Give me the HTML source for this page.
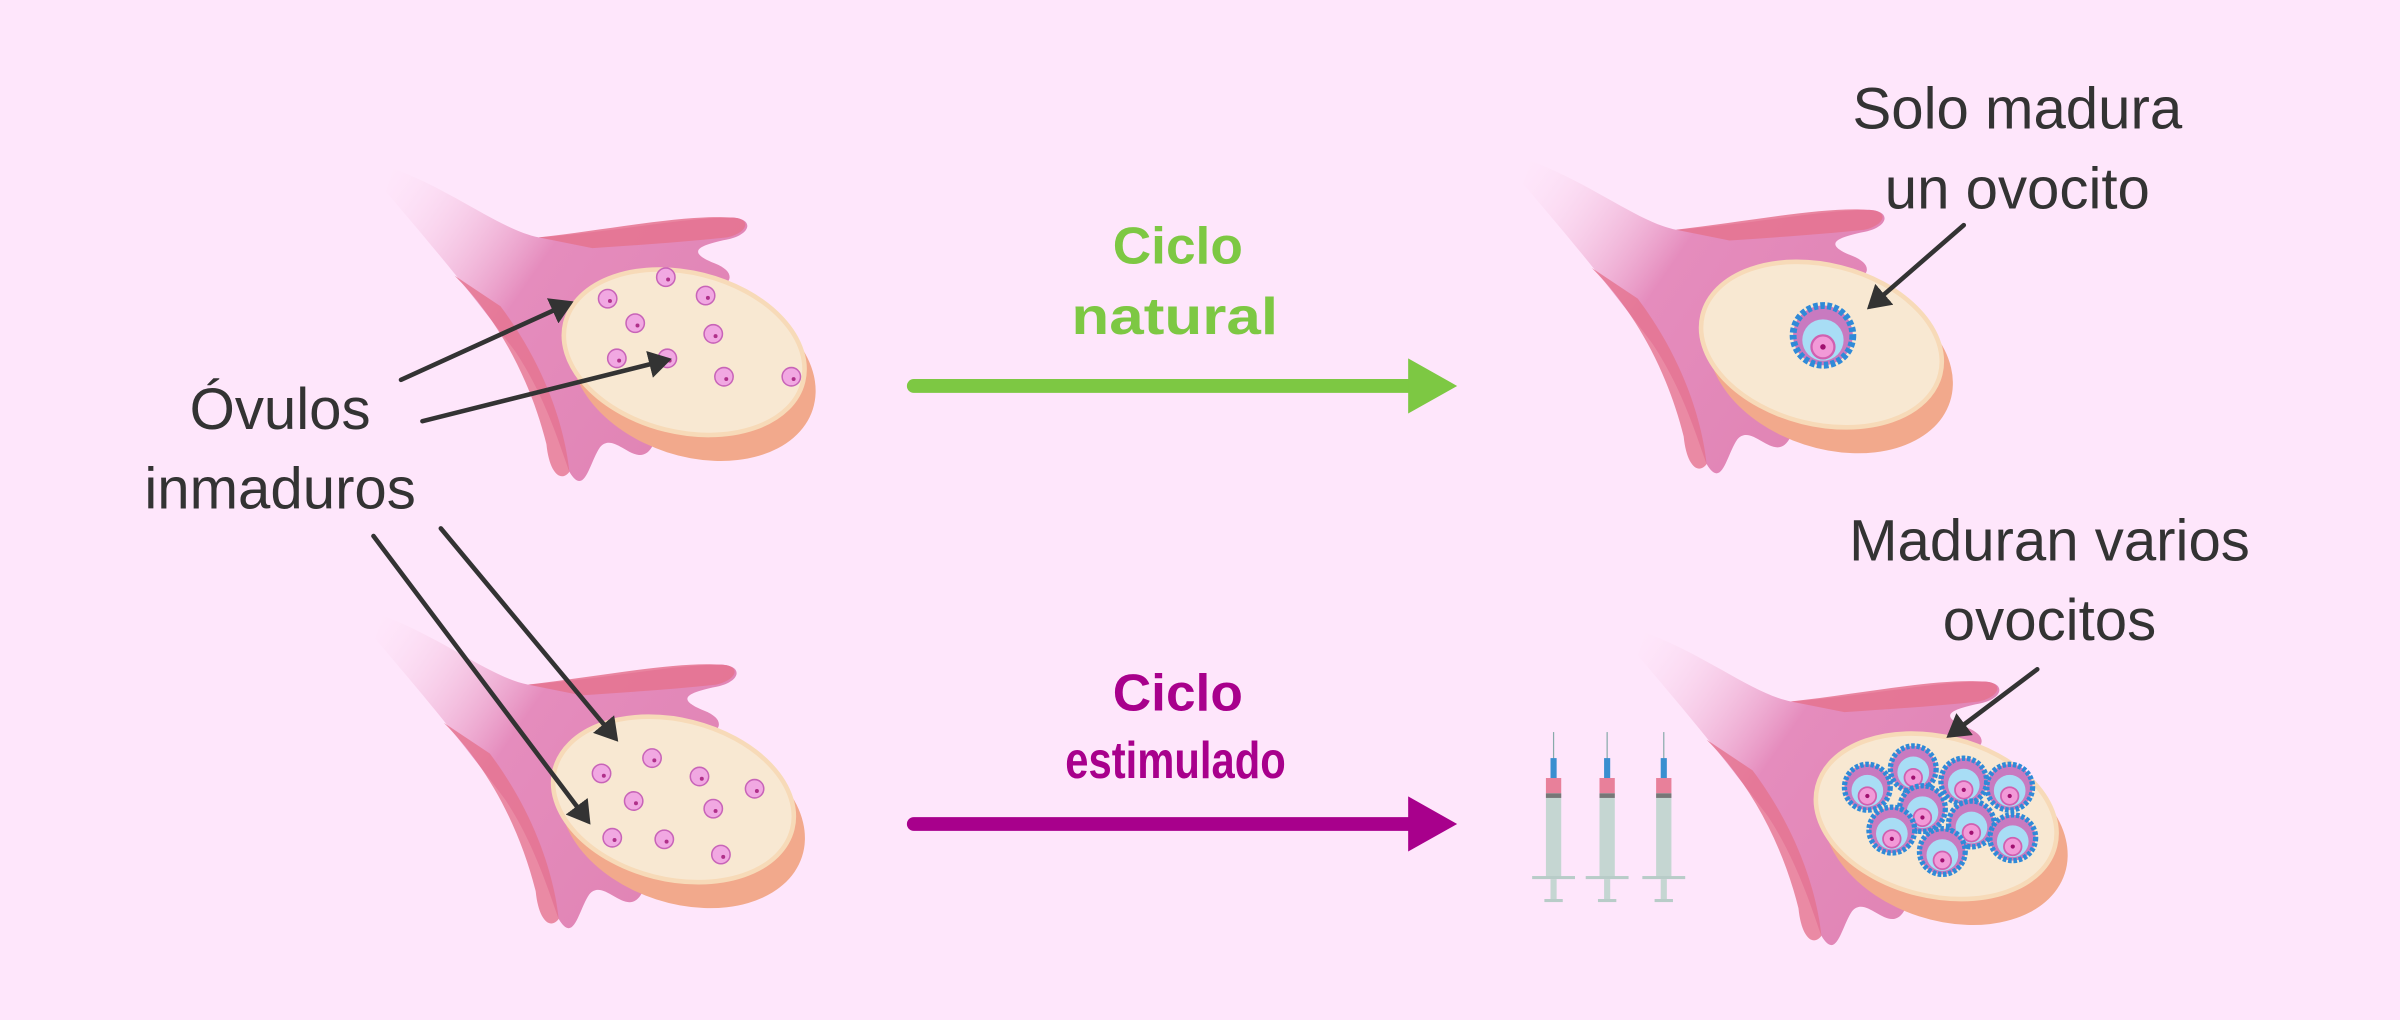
<!DOCTYPE html>
<html><head><meta charset="utf-8"><style>
html,body{margin:0;padding:0;background:#fee6fb;}
svg{display:block}
text{font-family:"Liberation Sans Narrow","Liberation Sans",sans-serif;}
</style></head><body>
<svg width="2400" height="1020" viewBox="0 0 1568 666" preserveAspectRatio="none" xmlns="http://www.w3.org/2000/svg">
<defs>
<linearGradient id="tg" x1="0" y1="0" x2="1" y2="0.6">
<stop offset="0" stop-color="#fde0f2" stop-opacity="0"/>
<stop offset="0.45" stop-color="#e58cbd"/>
<stop offset="1" stop-color="#e084b4"/>
</linearGradient>
<marker id="ah" markerWidth="6" markerHeight="6" refX="4" refY="3" orient="auto" markerUnits="strokeWidth"><path d="M0,0 L5,3 L0,6 Z" fill="#333"/></marker>
<g id="ov">
<path d="M-190,-120 C-150,-105 -120,-80 -95,-75 C-50,-78 0,-88 30,-88 C45,-88 45,-78 30,-74 C10,-70 0,-66 20,-58 C35,-52 32,-43 15,-40 L0,-20 L-20,60 C-30,80 -45,50 -55,62 C-62,72 -65,95 -75,78 C-80,65 -90,30 -110,0 C-140,-40 -165,-70 -195,-105 Z" fill="url(#tg)"/>
<path d="M-95,-75 C-50,-80 0,-90 30,-88 C45,-88 42,-78 28,-75 C0,-72 -30,-70 -60,-68 Z" fill="#e5738f" opacity="0.85"/>
<path d="M-150,-50 C-120,-20 -100,20 -90,60 C-88,80 -80,85 -75,78 C-78,50 -90,10 -120,-30 Z" fill="#e5738f" opacity="0.8"/>
<ellipse cx="6" cy="12" rx="82" ry="56" transform="rotate(18 6 12)" fill="#f2a98c"/>
<ellipse cx="0" cy="0" rx="80" ry="52" transform="rotate(14)" fill="#f8e8d2" stroke="#f7dab8" stroke-width="3"/>
</g>
<g id="dot"><circle r="6" fill="#f1a8e2" stroke="#c864b8" stroke-width="1"/><circle cx="1.5" cy="1.5" r="1.3" fill="#b0308a"/></g>
<g id="fol0"><circle r="13" fill="#c87ac0" stroke="#2f8ad8" stroke-width="3" stroke-dasharray="2 1"/><circle r="9" cy="2" fill="#a8ddf5"/><circle r="5" cy="5" fill="#f29ad8" stroke="#d060b0"/><circle r="1.2" cy="5" fill="#a01070"/></g>
<g id="fol"><g transform="scale(1.15)"><use href="#fol0"/></g></g>
<g id="syr">
<line x1="0" y1="-55" x2="0" y2="-35" stroke="#8aa" stroke-width="0.8"/>
<rect x="-2" y="-38" width="4" height="16" fill="#3a8fd0"/>
<rect x="-5" y="-25" width="10" height="10" fill="#e8809a"/>
<rect x="-5" y="-15" width="10" height="55" fill="#c5d6d2"/>
<rect x="-5" y="-15" width="10" height="3" fill="#777"/>
<rect x="-14" y="39" width="28" height="2" fill="#b8ccc8"/>
<rect x="-2" y="41" width="4" height="14" fill="#c5d6d2"/>
<rect x="-6" y="54" width="12" height="2" fill="#b8ccc8"/>
</g>
</defs>

<use href="#ov" x="447" y="230"/>
<use href="#dot" x="397" y="195"/><use href="#dot" x="435" y="181"/><use href="#dot" x="461" y="193"/>
<use href="#dot" x="415" y="211"/><use href="#dot" x="466" y="218"/><use href="#dot" x="403" y="234"/>
<use href="#dot" x="436" y="234"/><use href="#dot" x="517" y="246"/><use href="#dot" x="473" y="246"/>

<use href="#ov" x="1190" y="225"/>
<g transform="translate(1191,219) scale(1.5)"><use href="#fol0"/></g>

<use href="#ov" x="440" y="522"/>
<use href="#dot" x="393" y="505"/><use href="#dot" x="426" y="495"/><use href="#dot" x="457" y="507"/>
<use href="#dot" x="414" y="523"/><use href="#dot" x="466" y="528"/><use href="#dot" x="400" y="547"/>
<use href="#dot" x="434" y="548"/><use href="#dot" x="493" y="515"/><use href="#dot" x="471" y="558"/>

<use href="#ov" x="1265" y="533"/>
<use href="#fol" x="1220" y="514"/><use href="#fol" x="1250" y="502"/><use href="#fol" x="1283" y="510"/><use href="#fol" x="1313" y="514"/>
<use href="#fol" x="1256" y="528"/><use href="#fol" x="1236" y="542"/><use href="#fol" x="1288" y="538"/>
<use href="#fol" x="1269" y="556"/><use href="#fol" x="1315" y="547"/>

<use href="#syr" x="1015" y="533"/><use href="#syr" x="1050" y="533"/><use href="#syr" x="1087" y="533"/>

<g stroke="#333" stroke-width="3" fill="none" stroke-linecap="round" marker-end="url(#ah)">
<line x1="262" y1="248" x2="372" y2="198"/>
<line x1="276" y1="275" x2="436" y2="235"/>
<line x1="288" y1="345" x2="402" y2="482"/>
<line x1="244" y1="350" x2="384" y2="536"/>
<line x1="1283" y1="147" x2="1222" y2="200"/>
<line x1="1331" y1="437" x2="1274" y2="480"/>
</g>

<line x1="597" y1="252" x2="925" y2="252" stroke="#7dc843" stroke-width="9" stroke-linecap="round"/>
<path d="M920,234 L952,252 L920,270 Z" fill="#7dc843"/>
<line x1="597" y1="538" x2="925" y2="538" stroke="#a8008c" stroke-width="9" stroke-linecap="round"/>
<path d="M920,520 L952,538 L920,556 Z" fill="#a8008c"/>

<g font-size="38" fill="#333" text-anchor="middle">
<text x="183" y="280">Óvulos</text>
<text x="183" y="332">inmaduros</text>
<text x="1318" y="84">Solo madura</text>
<text x="1318" y="136">un ovocito</text>
<text x="1339" y="366">Maduran varios</text>
<text x="1339" y="418">ovocitos</text>
</g>
<g font-size="34" font-weight="bold">
<text x="727" y="172" fill="#7dc843" textLength="85" lengthAdjust="spacingAndGlyphs">Ciclo</text>
<text x="700" y="218" fill="#7dc843" textLength="135" lengthAdjust="spacingAndGlyphs">natural</text>
<text x="727" y="464" fill="#a8008c" textLength="85" lengthAdjust="spacingAndGlyphs">Ciclo</text>
<text x="696" y="508" fill="#a8008c" textLength="144" lengthAdjust="spacingAndGlyphs">estimulado</text>
</g>
</svg>
</body></html>
